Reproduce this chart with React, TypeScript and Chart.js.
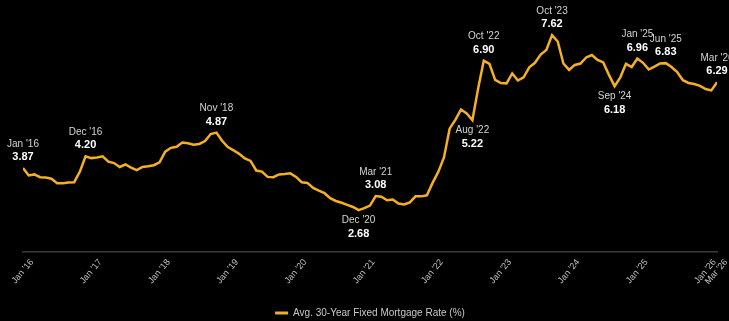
import React, { useEffect, useRef } from "react";
import { Chart, registerables } from "chart.js";

Chart.register(...registerables);

// Monthly average 30-year fixed mortgage rate, Jan 2016 – Mar 2026
const RATES_2016 = [3.87, 3.66, 3.69, 3.61, 3.60, 3.57, 3.44, 3.44, 3.46, 3.47, 3.77, 4.20];
const RATES_2017 = [4.15, 4.17, 4.20, 4.05, 4.01, 3.90, 3.97, 3.88, 3.81, 3.90, 3.92, 3.95];
const RATES_2018 = [4.03, 4.33, 4.44, 4.47, 4.59, 4.57, 4.53, 4.55, 4.63, 4.83, 4.87, 4.64];
const RATES_2019 = [4.46, 4.37, 4.27, 4.14, 4.07, 3.80, 3.77, 3.62, 3.61, 3.69, 3.70, 3.72];
const RATES_2020 = [3.62, 3.47, 3.45, 3.31, 3.23, 3.16, 3.02, 2.94, 2.89, 2.83, 2.77, 2.68];
const RATES_2021 = [2.74, 2.81, 3.08, 3.06, 2.96, 2.98, 2.87, 2.84, 2.90, 3.07, 3.07, 3.10];
const RATES_2022 = [3.45, 3.76, 4.17, 4.98, 5.23, 5.52, 5.41, 5.22, 6.11, 6.90, 6.81, 6.36];
const RATES_2023 = [6.27, 6.26, 6.54, 6.34, 6.43, 6.71, 6.84, 7.07, 7.20, 7.62, 7.44, 6.82];
const RATES_2024 = [6.64, 6.78, 6.82, 6.99, 7.06, 6.92, 6.85, 6.50, 6.18, 6.43, 6.81, 6.72];
const RATES_2025 = [6.96, 6.84, 6.65, 6.73, 6.82, 6.83, 6.72, 6.58, 6.35, 6.27, 6.24, 6.19];
const RATES_2026 = [6.10, 6.06, 6.29];

const RATES = [
  ...RATES_2016, ...RATES_2017, ...RATES_2018, ...RATES_2019, ...RATES_2020,
  ...RATES_2021, ...RATES_2022, ...RATES_2023, ...RATES_2024, ...RATES_2025, ...RATES_2026,
];

// Tick positions (month index from Jan 2016) and their labels
const TICK_MONTHS = [0, 12, 24, 36, 48, 60, 72, 84, 96, 108, 120, 122];
const TICK_LABELS = ["Jan '16", "Jan '17", "Jan '18", "Jan '19", "Jan '20", "Jan '21", "Jan '22", "Jan '23", "Jan '24", "Jan '25", "Jan '26", "Mar '26"];

// Annotated points: month index, label, placement
const NOTE_MONTHS = [0, 11, 34, 59, 62, 79, 81, 93, 104, 108, 113, 122];
const NOTE_LABELS = ["Jan '16", "Dec '16", "Nov '18", "Dec '20", "Mar '21", "Aug '22", "Oct '22", "Oct '23", "Sep '24", "Jan '25", "Jun '25", "Mar '26"];
const NOTE_BELOW = [false, false, false, true, false, true, false, false, true, false, false, false];

const LEGEND_LABEL = "Avg. 30-Year Fixed Mortgage Rate (%)";
const GOLD = "#f4b022";
const FONT = "'Liberation Sans Narrow', 'Arial Narrow', 'Liberation Sans', Arial, sans-serif";

const notesPlugin = {
  id: "notes",
  beforeLayout(chart: any) {
    const lg = chart.legend;
    if (lg && !lg.__patched) {
      const orig = lg.fit.bind(lg);
      lg.fit = function () {
        orig();
        this.height = 16;
      };
      lg.__patched = true;
    }
  },
  afterDatasetsDraw(chart: any) {
    const meta = chart.getDatasetMeta(0);
    const ctx = chart.ctx;
    ctx.save();
    ctx.textAlign = "center";
    ctx.textBaseline = "middle";
    NOTE_MONTHS.forEach((m, i) => {
      const el = meta.data[m];
      if (!el) return;
      const x = el.x;
      const y = el.y;
      const below = NOTE_BELOW[i];
      const labelY = below ? y + 10 : y - 24;
      const valueY = below ? y + 24 : y - 11;
      ctx.font = `10px ${FONT}`;
      ctx.fillStyle = "#d4d4d4";
      ctx.fillText(NOTE_LABELS[i], x, labelY);
      ctx.font = `bold 11px ${FONT}`;
      ctx.fillStyle = "#ffffff";
      ctx.fillText(RATES[m].toFixed(2), x, valueY);
    });
    ctx.restore();
  },
};

export default function App() {
  const canvasRef = useRef<HTMLCanvasElement | null>(null);

  useEffect(() => {
    document.body.style.margin = "0";
    document.body.style.background = "#000";
    const canvas = canvasRef.current;
    if (!canvas) return;
    const chart = new Chart(canvas, {
      type: "line",
      data: {
        datasets: [
          {
            label: LEGEND_LABEL,
            data: RATES.map((v, i) => ({ x: i, y: v })),
            borderColor: GOLD,
            backgroundColor: GOLD,
            borderWidth: 2.5,
            pointRadius: 0,
            tension: 0,
          },
        ],
      },
      options: {
        animation: false,
        responsive: false,
        devicePixelRatio: 1,
        layout: { padding: { left: 23, right: 12, top: 10, bottom: 0 } },
        scales: {
          x: {
            type: "linear",
            min: 0,
            max: 122,
            grid: { display: false, drawTicks: false },
            border: { display: true, color: "#3a3a3a", width: 1.5 },
            ticks: {
              autoSkip: false,
              minRotation: 50,
              maxRotation: 50,
              padding: 5,
              labelOffset: 9,
              color: "#c2c2c2",
              font: { size: 9, family: FONT },
              callback: (v: any) => {
                const idx = TICK_MONTHS.indexOf(Number(v));
                return idx >= 0 ? TICK_LABELS[idx] : "";
              },
            },
            afterBuildTicks: (s: any) => {
              s.ticks = TICK_MONTHS.map((v) => ({ value: v }));
            },
            afterFit: (s: any) => {
              s.height = 53;
              s.paddingLeft = 0;
              s.paddingRight = 0;
            },
          },
          y: { display: false, min: 1.5, max: 8.33 },
        },
        plugins: {
          legend: {
            position: "bottom",
            align: "center",
            labels: {
              boxWidth: 13,
              boxHeight: 3,
              padding: 3,
              color: "#c8c8c8",
              font: { size: 10, family: FONT },
              generateLabels: (c: any) => {
                const items = (Chart as any).defaults.plugins.legend.labels.generateLabels(c);
                items.forEach((it: any) => {
                  it.lineWidth = 0;
                  it.fillStyle = GOLD;
                });
                return items;
              },
            },
          },
          tooltip: { enabled: false },
        },
      },
      plugins: [notesPlugin],
    });
    return () => chart.destroy();
  }, []);

  return (
    <div style={{ width: 729, height: 321, background: "#000" }}>
      <canvas ref={canvasRef} width={729} height={321} style={{ display: "block" }} />
    </div>
  );
}
